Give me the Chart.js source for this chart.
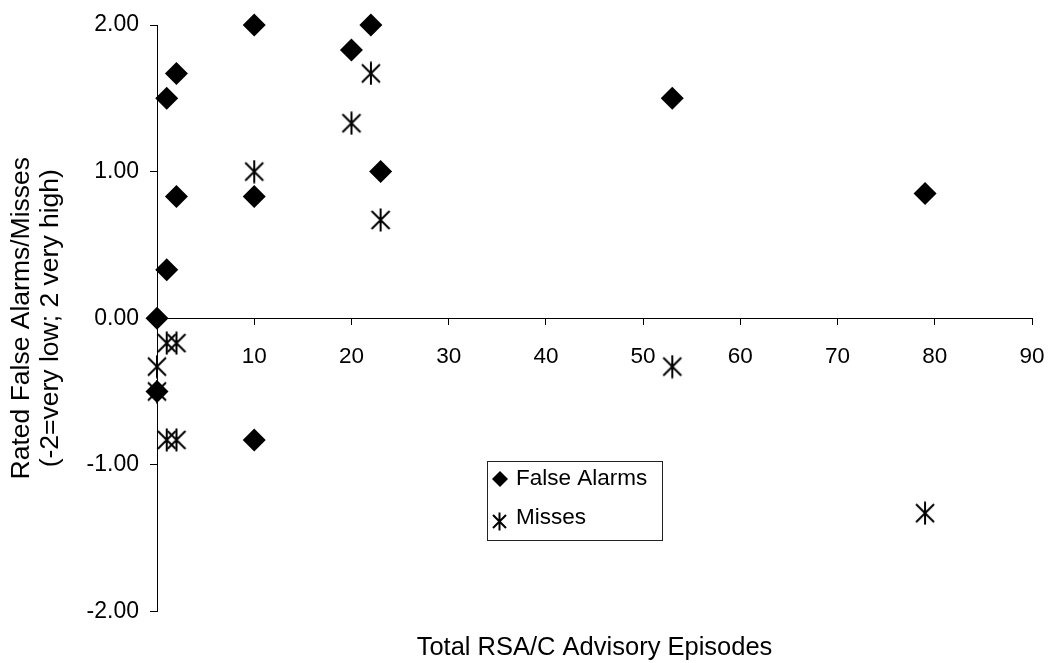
<!DOCTYPE html>
<html>
<head>
<meta charset="utf-8">
<script src="https://cdn.jsdelivr.net/npm/chart.js@4/dist/chart.umd.min.js"></script>
<style>
  html, body { margin: 0; padding: 0; background: #fff; }
  #wrap { width: 1051px; height: 663px; position: relative; }
</style>
</head>
<body>
<div id="wrap"><canvas id="c" width="1051" height="663"></canvas></div>
<script>
// ---- data ----
const seriesNames = ['False Alarms', 'Misses'];
const falseAlarmX = [0, 1, 2, 2, 1, 0, 10, 10, 10, 20, 22, 23, 53, 79];
const falseAlarmY = [0, 1.5, 1.67, 0.83, 0.33, -0.5, 2, 0.83, -0.83, 1.83, 2, 1, 1.5, 0.85];
const missX = [10, 20, 22, 23, 1, 2, 0, 0, 1, 2, 53, 79];
const missY = [1, 1.33, 1.67, 0.67, -0.17, -0.17, -0.33, -0.5, -0.83, -0.83, -0.33, -1.33];
const xTicks = [0, 10, 20, 30, 40, 50, 60, 70, 80, 90];
const yTicks = [-2, -1, 0, 1, 2];
const xTitle = 'Total RSA/C Advisory Episodes';
const yTitle = ['Rated False Alarms/Misses', '(-2=very low; 2 very high)'];

const FONT = "'Liberation Sans', Arial, Helvetica, sans-serif";

function makeStar(size, lw) {
  const c = document.createElement('canvas');
  c.width = size; c.height = size;
  const g = c.getContext('2d');
  g.strokeStyle = '#000';
  g.lineWidth = lw;
  const m = 2, h = size / 2;
  g.beginPath();
  g.moveTo(m + 1, m + 1); g.lineTo(size - m - 1, size - m - 1);
  g.moveTo(size - m - 1, m + 1); g.lineTo(m + 1, size - m - 1);
  g.moveTo(h, 0.5); g.lineTo(h, size - 0.5);
  g.stroke();
  return c;
}
const starImg = makeStar(24, 2);
const starSmall = makeStar(19, 2);

const toPts = (xs, ys) => xs.map((x, i) => ({x: x, y: ys[i]}));

const legendPlugin = {
  id: 'boxLegend',
  afterDraw(chart) {
    const ctx = chart.ctx;
    ctx.save();
    const bx = 487.5, by = 461.5, bw = 175, bh = 79;
    ctx.strokeStyle = '#222';
    ctx.lineWidth = 1;
    ctx.strokeRect(bx, by, bw, bh);
    ctx.font = '22.5px ' + FONT;
    ctx.fillStyle = '#000';
    ctx.textBaseline = 'middle';
    ctx.textAlign = 'left';
    ctx.beginPath();
    ctx.moveTo(500, 471); ctx.lineTo(508, 479); ctx.lineTo(500, 487); ctx.lineTo(492, 479); ctx.closePath();
    ctx.fill();
    ctx.fillText(chart.data.datasets[0].label, 516, 479);
    ctx.drawImage(starSmall, 490, 512);
    ctx.fillText(chart.data.datasets[1].label, 516, 518);
    ctx.restore();
  }
};

new Chart(document.getElementById('c'), {
  type: 'scatter',
  data: {
    datasets: [
      {
        label: seriesNames[0],
        data: toPts(falseAlarmX, falseAlarmY),
        pointStyle: 'rectRot',
        pointRadius: 11.5,
        pointHoverRadius: 11.5,
        backgroundColor: '#000',
        borderColor: '#000',
        borderWidth: 0,
        clip: false,
        order: 1
      },
      {
        label: seriesNames[1],
        data: toPts(missX, missY),
        pointStyle: starImg,
        pointRadius: 12,
        backgroundColor: '#000',
        borderColor: '#000',
        clip: false,
        order: 0
      }
    ]
  },
  options: {
    responsive: false,
    animation: false,
    events: [],
    layout: { padding: { top: 25, right: 19, bottom: 0, left: 0 } },
    plugins: {
      legend: { display: false },
      tooltip: { enabled: false },
      title: {
        display: true,
        position: 'bottom',
        fullSize: false,
        text: xTitle,
        color: '#000',
        font: { family: FONT, size: 25.5, weight: 'normal', lineHeight: 1.2 },
        padding: { top: 21, bottom: 0 }
      }
    },
    scales: {
      x: {
        type: 'linear',
        min: 0, max: 90,
        position: { y: 0 },
        afterBuildTicks(scale) { scale.ticks = xTicks.map(v => ({value: v})); },
        afterFit(scale) { scale.paddingLeft = 0; scale.paddingRight = 0; },
        ticks: {
          color: '#000',
          font: { family: FONT, size: 22.5 },
          padding: 19,
          maxRotation: 0,
          callback: (v) => v === 0 ? '' : String(v)
        },
        grid: { drawOnChartArea: false, drawTicks: true, tickLength: 6, color: '#000', lineWidth: 1 },
        border: { display: true, color: '#000', width: 1 }
      },
      y: {
        type: 'linear',
        min: -2, max: 2,
        position: 'left',
        afterBuildTicks(scale) { scale.ticks = yTicks.map(v => ({value: v})); },
        afterFit(scale) { scale.width = 157; },
        ticks: {
          color: '#000',
          font: { family: FONT, size: 23 },
          padding: 11,
          callback: (v) => Number(v).toFixed(2)
        },
        grid: { drawOnChartArea: false, drawTicks: true, tickLength: 7, color: '#000', lineWidth: 1 },
        border: { display: true, color: '#000', width: 1 },
        title: {
          display: true,
          text: yTitle,
          color: '#000',
          font: { family: FONT, size: 26.5, lineHeight: 1.07 },
          padding: { top: 8, bottom: 0 }
        }
      }
    }
  },
  plugins: [legendPlugin]
});
</script>
</body>
</html>
